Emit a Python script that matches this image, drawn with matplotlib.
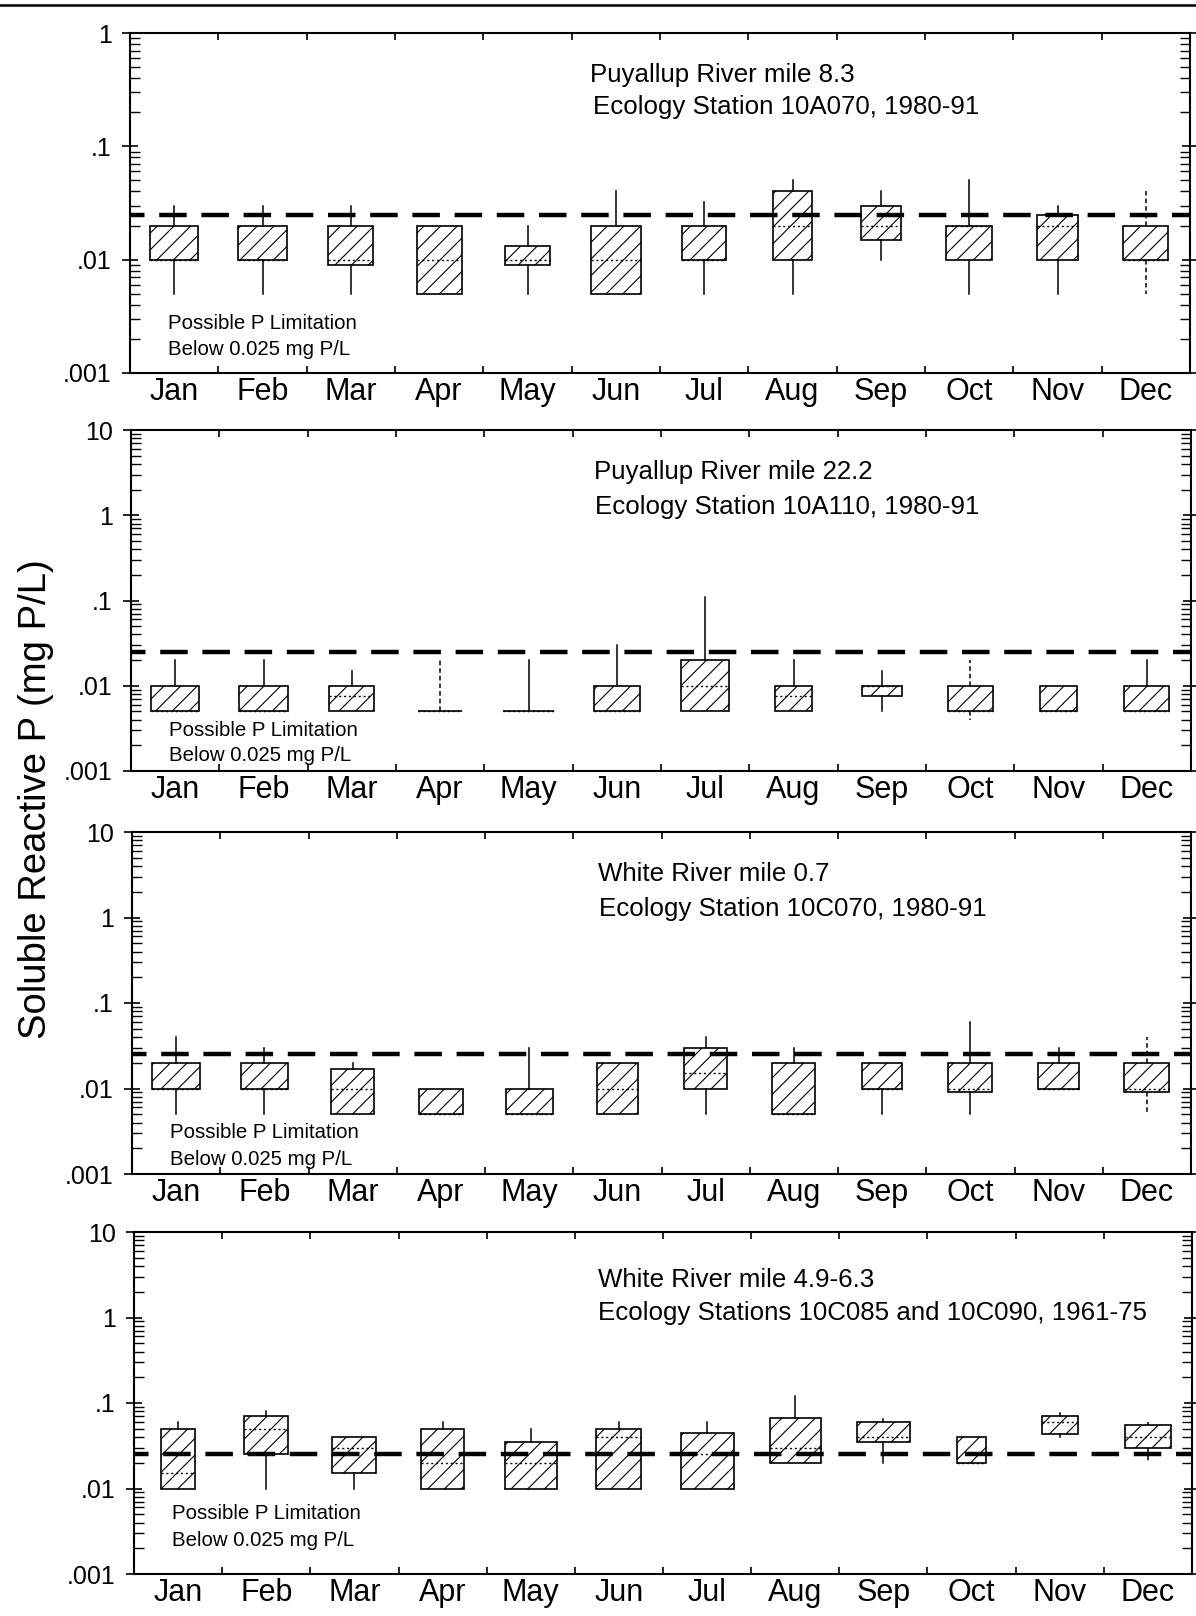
import matplotlib
matplotlib.use("Agg")
import matplotlib.pyplot as plt
from matplotlib.ticker import FixedLocator, FuncFormatter, NullFormatter
import numpy as np

plt.rcParams['font.family'] = ['Liberation Sans', 'DejaVu Sans']
plt.rcParams['hatch.linewidth'] = 0.8

months = ['Jan', 'Feb', 'Mar', 'Apr', 'May', 'Jun', 'Jul', 'Aug', 'Sep', 'Oct', 'Nov', 'Dec']
limit_value = 0.025

# Panel 1: Puyallup River mile 8.3
p1_min = [0.005, 0.005, 0.005, 0.005, 0.005, 0.005, 0.005, 0.005, 0.010, 0.005, 0.005, 0.005]
p1_q1  = [0.010, 0.010, 0.009, 0.005, 0.009, 0.005, 0.010, 0.010, 0.015, 0.010, 0.010, 0.010]
p1_med = [0.010, 0.010, 0.010, 0.010, 0.010, 0.010, 0.010, 0.020, 0.020, 0.020, 0.020, 0.010]
p1_q3  = [0.020, 0.020, 0.020, 0.020, 0.0133, 0.020, 0.020, 0.040, 0.030, 0.020, 0.025, 0.020]
p1_max = [0.030, 0.030, 0.030, 0.020, 0.020, 0.040, 0.032, 0.050, 0.040, 0.050, 0.030, 0.040]

# Panel 2: Puyallup River mile 22.2
p2_min = [0.005, 0.005, 0.005, 0.005, 0.005, 0.005, 0.005, 0.005, 0.005, 0.004, 0.005, 0.005]
p2_q1  = [0.005, 0.005, 0.005, 0.005, 0.005, 0.005, 0.005, 0.005, 0.0075, 0.005, 0.005, 0.005]
p2_med = [0.005, 0.005, 0.0075, 0.005, 0.005, 0.005, 0.010, 0.0075, 0.010, 0.005, 0.005, 0.005]
p2_q3  = [0.010, 0.010, 0.010, 0.005, 0.005, 0.010, 0.020, 0.010, 0.010, 0.010, 0.010, 0.010]
p2_max = [0.020, 0.020, 0.015, 0.020, 0.020, 0.030, 0.110, 0.020, 0.015, 0.020, 0.010, 0.020]

# Panel 3: White River mile 0.7
p3_min = [0.005, 0.005, 0.005, 0.005, 0.005, 0.005, 0.005, 0.005, 0.005, 0.005, 0.010, 0.005]
p3_q1  = [0.010, 0.010, 0.005, 0.005, 0.005, 0.005, 0.010, 0.005, 0.010, 0.009, 0.010, 0.009]
p3_med = [0.010, 0.010, 0.010, 0.005, 0.005, 0.010, 0.015, 0.005, 0.010, 0.010, 0.010, 0.010]
p3_q3  = [0.020, 0.020, 0.017, 0.010, 0.010, 0.020, 0.030, 0.020, 0.020, 0.020, 0.020, 0.020]
p3_max = [0.040, 0.030, 0.020, 0.010, 0.030, 0.020, 0.040, 0.030, 0.020, 0.060, 0.030, 0.040]

# Panel 4: White River mile 4.9-6.3
p4_min = [0.010, 0.010, 0.010, 0.010, 0.010, 0.010, 0.010, 0.020, 0.020, 0.020, 0.040, 0.020]
p4_q1  = [0.010, 0.025, 0.015, 0.010, 0.010, 0.010, 0.010, 0.020, 0.035, 0.020, 0.043, 0.030]
p4_med = [0.015, 0.050, 0.030, 0.020, 0.020, 0.040, 0.025, 0.030, 0.040, 0.020, 0.060, 0.040]
p4_q3  = [0.050, 0.070, 0.040, 0.050, 0.035, 0.050, 0.045, 0.066, 0.060, 0.040, 0.070, 0.055]
p4_max = [0.060, 0.080, 0.040, 0.060, 0.050, 0.060, 0.060, 0.120, 0.065, 0.040, 0.077, 0.060]

p1_title = ["Puyallup River mile 8.3", "Ecology Station 10A070, 1980-91"]
p2_title = ["Puyallup River mile 22.2", "Ecology Station 10A110, 1980-91"]
p3_title = ["White River mile 0.7", "Ecology Station 10C070, 1980-91"]
p4_title = ["White River mile 4.9-6.3", "Ecology Stations 10C085 and 10C090, 1961-75"]
note_lines = ["Possible P Limitation", "Below 0.025 mg P/L"]
ylabel = "Soluble Reactive P (mg P/L)"

# ---- styling (box widths, layout) ----
p1_w = [0.545, 0.56, 0.51, 0.51, 0.50, 0.56, 0.50, 0.45, 0.46, 0.52, 0.46, 0.51]
p2_w = [0.54, 0.56, 0.51, 0.50, 0.57, 0.52, 0.55, 0.41, 0.46, 0.51, 0.41, 0.51]
p3_w = [0.54, 0.54, 0.49, 0.50, 0.53, 0.47, 0.49, 0.49, 0.46, 0.50, 0.46, 0.51]
p4_w = [0.39, 0.50, 0.50, 0.49, 0.59, 0.51, 0.60, 0.58, 0.60, 0.32, 0.41, 0.52]

W, H = 1196.0, 1616.0
def rect(left, top, right, bottom):
    return (left / W, 1 - bottom / H, (right - left) / W, (bottom - top) / H)

panels = [
    dict(mn=p1_min, q1=p1_q1, med=p1_med, q3=p1_q3, mx=p1_max, w=p1_w, title=p1_title,
         ylim=(0.001, 1), dashed=[11], rect=rect(130, 33, 1190, 373),
         ty=(0.876, 0.782), tx=(0.434, 0.437), ny=(0.147, 0.068)),
    dict(mn=p2_min, q1=p2_q1, med=p2_med, q3=p2_q3, mx=p2_max, w=p2_w, title=p2_title,
         ylim=(0.001, 10), dashed=[3, 9], rect=rect(131, 430, 1191, 771),
         ty=(0.878, 0.775), tx=(0.437, 0.438), ny=(0.120, 0.044)),
    dict(mn=p3_min, q1=p3_q1, med=p3_med, q3=p3_q3, mx=p3_max, w=p3_w, title=p3_title,
         ylim=(0.001, 10), dashed=[11], rect=rect(132, 832, 1191, 1174),
         ty=(0.877, 0.774), tx=(0.440, 0.441), ny=(0.122, 0.043)),
    dict(mn=p4_min, q1=p4_q1, med=p4_med, q3=p4_q3, mx=p4_max, w=p4_w, title=p4_title,
         ylim=(0.001, 10), dashed=[11], rect=rect(134, 1232, 1192, 1574),
         ty=(0.860, 0.762), tx=(0.439, 0.439), ny=(0.177, 0.099)),
]

fig = plt.figure(figsize=(11.96, 16.16), dpi=100)

def ylab(v, pos):
    if v >= 1:
        return "%d" % int(round(v))
    return ("%g" % v).lstrip("0")

dash_lw = 3.2
px2pt = 72.0 / 100.0
dash_style = (13 * px2pt / dash_lw, (27.5 * px2pt / dash_lw, 14.7 * px2pt / dash_lw))

for p in panels:
    ax = fig.add_axes(p['rect'])
    ax.set_yscale('log')
    stats = []
    for i in range(12):
        stats.append(dict(med=p['med'][i], q1=p['q1'][i], q3=p['q3'][i],
                          whislo=p['mn'][i], whishi=p['mx'][i], fliers=[]))
    pos = np.arange(12) + 0.5
    res = ax.bxp(stats, positions=pos, widths=p['w'], patch_artist=True,
                 showcaps=False, showfliers=False,
                 boxprops=dict(facecolor='white', edgecolor='black', linewidth=1.2, hatch='//'),
                 medianprops=dict(color='black', linewidth=1.0, linestyle=(0, (1.5, 2))),
                 whiskerprops=dict(color='black', linewidth=1.1))
    for i in p['dashed']:
        for wl in res['whiskers'][2 * i:2 * i + 2]:
            wl.set_linestyle((0, (3, 2)))
    ax.axhline(limit_value, color='black', linewidth=dash_lw, linestyle=dash_style, zorder=5)

    ax.set_xlim(0, 12)
    ax.set_ylim(*p['ylim'])
    ax.xaxis.set_major_locator(FixedLocator(np.arange(1, 12)))
    ax.xaxis.set_minor_locator(FixedLocator(pos))
    ax.xaxis.set_major_formatter(NullFormatter())
    ax.xaxis.set_minor_formatter(FuncFormatter(lambda v, k: months[int(v)] if 0 <= int(v) < 12 else ""))
    ax.tick_params(axis='x', which='major', direction='in', length=5, width=1.2, top=True, bottom=True)
    ax.tick_params(axis='x', which='minor', length=0, labelsize=22, pad=3)

    decs = np.arange(int(np.log10(p['ylim'][0])), int(np.log10(p['ylim'][1])) + 1)
    ax.yaxis.set_major_locator(FixedLocator(10.0 ** decs))
    minors = [m * 10.0 ** d for d in decs[:-1] for m in range(2, 10)]
    ax.yaxis.set_minor_locator(FixedLocator(minors))
    ax.yaxis.set_major_formatter(FuncFormatter(ylab))
    ax.yaxis.set_minor_formatter(NullFormatter())
    ax.tick_params(axis='y', which='major', direction='inout', length=12, width=1.2,
                   left=True, right=True, labelsize=18, pad=7)
    ax.tick_params(axis='y', which='minor', direction='in', length=7.5, width=1.0,
                   left=True, right=True)
    for sp in ax.spines.values():
        sp.set_linewidth(1.5)

    ax.text(p['tx'][0], p['ty'][0], p['title'][0], transform=ax.transAxes,
            ha='left', va='center', fontsize=18.6)
    ax.text(p['tx'][1], p['ty'][1], p['title'][1], transform=ax.transAxes,
            ha='left', va='center', fontsize=18.6)
    ax.text(0.036, p['ny'][0], note_lines[0], transform=ax.transAxes,
            ha='left', va='center', fontsize=14.7)
    ax.text(0.036, p['ny'][1], note_lines[1], transform=ax.transAxes,
            ha='left', va='center', fontsize=14.7)

fig.text(0.030, 0.5056, ylabel, rotation=90, ha='center', va='center', fontsize=27.5)
fig.add_artist(plt.Line2D([0, 1], [1 - 5 / H, 1 - 5 / H], transform=fig.transFigure,
                          color='black', linewidth=1.8))

fig.savefig("out.png", dpi=100)
